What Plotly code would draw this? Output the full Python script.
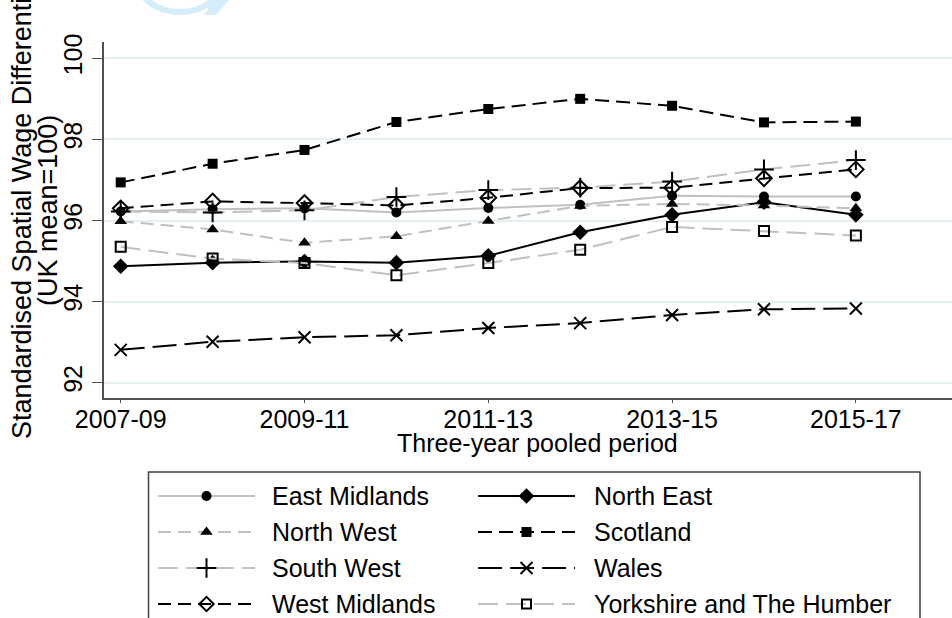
import plotly.graph_objects as go

# Three-year pooled periods (x categories)
periods = ["2007-09", "2008-10", "2009-11", "2010-12", "2011-13",
           "2012-14", "2013-15", "2014-16", "2015-17"]
tick_labels = ["2007-09", "2009-11", "2011-13", "2013-15", "2015-17"]

# Standardised spatial wage differential by region (UK mean = 100)
east_midlands = [96.22, 96.28, 96.30, 96.20, 96.31, 96.39, 96.61, 96.59, 96.59]
north_east = [94.87, 94.96, 94.99, 94.96, 95.13, 95.71, 96.14, 96.45, 96.14]
north_west = [95.98, 95.78, 95.45, 95.61, 95.99, 96.36, 96.41, 96.37, 96.30]
scotland = [96.94, 97.40, 97.74, 98.43, 98.75, 99.00, 98.83, 98.42, 98.44]
south_west = [96.22, 96.20, 96.25, 96.58, 96.75, 96.81, 96.96, 97.26, 97.49]
wales = [92.81, 93.01, 93.12, 93.17, 93.35, 93.47, 93.67, 93.81, 93.83]
west_midlands = [96.30, 96.47, 96.43, 96.37, 96.56, 96.80, 96.81, 97.04, 97.26]
yorkshire = [95.35, 95.06, 94.95, 94.65, 94.95, 95.28, 95.84, 95.74, 95.63]

region_names = ["East Midlands", "North East", "North West", "Scotland",
                "South West", "Wales", "West Midlands", "Yorkshire and The Humber"]
region_values = [east_midlands, north_east, north_west, scotland,
                 south_west, wales, west_midlands, yorkshire]

GRAY = "#c0c0c0"
BLACK = "#000000"
FONT = "Liberation Sans, Arial, Helvetica, sans-serif"

# line colour, dash, marker symbol, marker size (plot), marker size (key), outline width
styles = [
    (GRAY, "solid", "circle", 10, 10, 0),
    (BLACK, "solid", "diamond", 12, 12, 0),
    (GRAY, "13px,7px", "triangle-up", 11, 11, 0),
    (BLACK, "14px,7px", "square", 10, 10, 0),
    (GRAY, "20px,8px", "cross-thin", 14, 14, 2),
    (BLACK, "24px,8px", "x-thin", 12, 12, 2),
    (BLACK, "13px,7px", "diamond-open", 12, 11, 2),
    (GRAY, "20px,8px", "square-open", 10, 9, 2),
]

W, H = 952, 618
x_idx = list(range(len(periods)))

fig = go.Figure()

for name, vals, (lc, dash, sym, ms, _, mlw) in zip(region_names, region_values, styles):
    fig.add_trace(go.Scatter(
        x=x_idx, y=vals, name=name, mode="lines+markers",
        line=dict(color=lc, width=2, dash=dash),
        marker=dict(symbol=sym, size=ms, color=BLACK,
                    line=dict(color=BLACK, width=mlw)),
        showlegend=False, cliponaxis=False,
    ))

# Key below the plot, drawn on an overlay axis measured in pixels
key_col_x = [(158, 255, 270), (478, 575, 592)]
key_row_y = [496, 532, 568, 604]
shapes = []
annotations = []
for i, (name, (lc, dash, sym, _, ks, mlw)) in enumerate(zip(region_names, styles)):
    col, row = i % 2, i // 2
    x0, x1, xt = key_col_x[col]
    yy = key_row_y[row]
    fig.add_trace(go.Scatter(
        x=[x0, x1], y=[yy, yy], mode="lines", xaxis="x2", yaxis="y2",
        line=dict(color=lc, width=2, dash=dash), showlegend=False, hoverinfo="skip",
    ))
    fig.add_trace(go.Scatter(
        x=[(x0 + x1) / 2], y=[yy], mode="markers", xaxis="x2", yaxis="y2",
        marker=dict(symbol=sym, size=ks, color=BLACK, line=dict(color=BLACK, width=mlw)),
        showlegend=False, hoverinfo="skip",
    ))
    annotations.append(dict(
        x=xt, y=yy, xref="x2", yref="y2", text=name, showarrow=False,
        xanchor="left", yanchor="middle", font=dict(family=FONT, size=25, color="black"),
    ))

shapes.append(dict(type="rect", xref="x2", yref="y2", x0=148.5, x1=920, y0=472, y1=660,
                   line=dict(color="#404040", width=1.5), fillcolor="rgba(0,0,0,0)", layer="above"))

# faint logo mark at the top edge
shapes.append(dict(type="circle", xref="x2", yref="y2", x0=128, x1=232, y0=-92, y1=12,
                   line=dict(color="#d6edf9", width=6), fillcolor="rgba(0,0,0,0)", layer="below"))
shapes.append(dict(type="path", xref="x2", yref="y2",
                   path="M 204 15 L 216 15 L 229 0 L 214 0 Z",
                   fillcolor="#d6edf9", line=dict(width=0), layer="below"))

# Axis titles
annotations.append(dict(x=22, y=208, xref="x2", yref="y2", textangle=-90,
                        text="Standardised Spatial Wage Differential", showarrow=False,
                        xanchor="center", yanchor="middle",
                        font=dict(family=FONT, size=27, color="black")))
annotations.append(dict(x=48, y=211, xref="x2", yref="y2", textangle=-90,
                        text="(UK mean=100)", showarrow=False,
                        xanchor="center", yanchor="middle",
                        font=dict(family=FONT, size=27, color="black")))
annotations.append(dict(x=537, y=443, xref="x2", yref="y2",
                        text="Three-year pooled period", showarrow=False,
                        xanchor="center", yanchor="middle",
                        font=dict(family=FONT, size=25, color="black")))

plot_l, plot_t, plot_b = 104, 42.3, 398.3
fig.update_layout(
    width=W, height=H,
    margin=dict(l=0, r=0, t=0, b=0),
    paper_bgcolor="white", plot_bgcolor="rgba(0,0,0,0)",
    font=dict(family=FONT, size=25, color="black"),
    showlegend=False,
    xaxis=dict(
        domain=[plot_l / W, 1], range=[-0.182, 9.046],
        tickmode="array", tickvals=[0, 2, 4, 6, 8], ticktext=tick_labels,
        showgrid=False, zeroline=False,
        showline=True, linecolor="#505050", linewidth=1.5,
        ticks="outside", ticklen=3, tickwidth=1, tickcolor="#505050",
        ticklabelstandoff=-5,
        tickfont=dict(family=FONT, size=25, color="black"),
        automargin=False,
    ),
    yaxis=dict(
        domain=[(H - plot_b) / H, (H - plot_t) / H], range=[91.615, 100.395],
        tickmode="array", tickvals=[92, 94, 96, 98, 100],
        showgrid=True, gridcolor="#e6eff2", gridwidth=2, zeroline=False,
        showline=True, linecolor="#505050", linewidth=1.5,
        ticks="outside", ticklen=10, tickwidth=1, tickcolor="#505050",
        tickangle=-90, tickfont=dict(family=FONT, size=25, color="black"),
        automargin=False,
    ),
    xaxis2=dict(domain=[0, 1], range=[0, W], visible=False, fixedrange=True),
    yaxis2=dict(domain=[0, 1], range=[H, 0], visible=False, fixedrange=True,
                anchor="x2"),
    shapes=shapes,
    annotations=annotations,
)

fig.write_html("out.html")
